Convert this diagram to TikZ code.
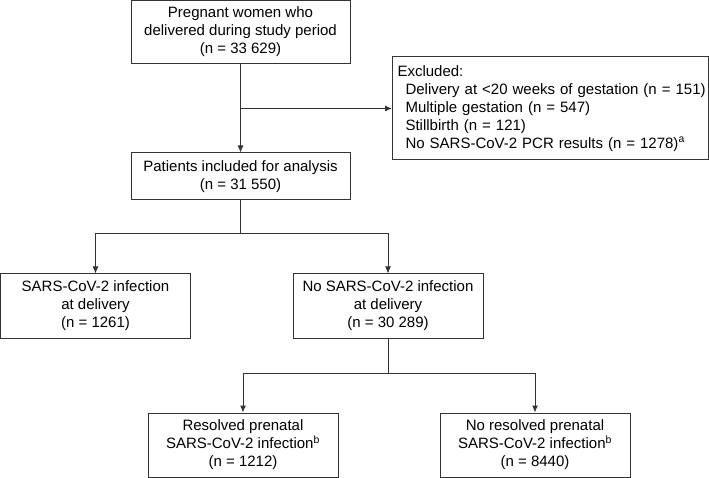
\documentclass[tikz,border=0pt]{standalone}
\usepackage{fontspec}
\setmainfont{Liberation Sans}
\usetikzlibrary{arrows.meta}

\begin{document}
\begin{tikzpicture}[x=1pt,y=1pt,
  flowbox/.style={draw=black!80,line width=1pt,inner sep=0pt,align=center,font=\fontsize{15}{18}\selectfont},
  flowline/.style={draw=black!80,line width=1pt},
  flowarrow/.style={flowline,-{Latex[length=7pt,width=6pt]}}]
\useasboundingbox (0,0) rectangle (709,-478);
\node (total) [flowbox,minimum width=219pt,minimum height=63pt] at (240.5,-32) {Pregnant women who\\delivered during study period\\(n = 33 629)};
\node (excluded) [flowbox,align=left,text width=306pt,inner xsep=5pt,minimum height=103pt,anchor=west] at (392,-108.5) {
\begin{tabular}{@{}l@{}}
  Excluded: \\
  \hspace*{8pt}Delivery at <20 weeks of gestation (n = 151) \\
  \hspace*{8pt}Multiple gestation (n = 547) \\
  \hspace*{8pt}Stillbirth (n = 121) \\
  \hspace*{8pt}No SARS-CoV-2 PCR results (n = 1278)\textsuperscript{a} \\
\end{tabular}
};
\node (included) [flowbox,minimum width=219pt,minimum height=47pt] at (240.5,-176.5) {Patients included for analysis\\(n = 31 550)};
\node (positive) [flowbox,minimum width=190pt,minimum height=64pt] at (95.5,-306) {SARS-CoV-2 infection\\at delivery\\(n = 1261)};
\node (negative) [flowbox,minimum width=190pt,minimum height=64pt] at (388,-306) {No SARS-CoV-2 infection\\at delivery\\(n = 30 289)};
\node (resolved) [flowbox,minimum width=190pt,minimum height=64pt] at (243,-445) {Resolved prenatal\\SARS-CoV-2 infection\textsuperscript{b}\\(n = 1212)};
\node (unresolved) [flowbox,minimum width=190pt,minimum height=64pt] at (535,-445) {No resolved prenatal\\SARS-CoV-2 infection\textsuperscript{b}\\(n = 8440)};
\coordinate (branch) at (total.south |- excluded.west);
\coordinate (split1) at (240.5,-234);
\coordinate (split2) at (388,-373);
\draw [flowarrow] (total) -- (included);
\draw [flowarrow] (branch) -- (excluded.west);
\draw [flowline] (included) -- (split1);
\draw [flowarrow] (split1) -| (positive);
\draw [flowarrow] (split1) -| (negative);
\draw [flowline] (negative) -- (split2);
\draw [flowarrow] (split2) -| (resolved);
\draw [flowarrow] (split2) -| (unresolved);
\end{tikzpicture}
\end{document}
